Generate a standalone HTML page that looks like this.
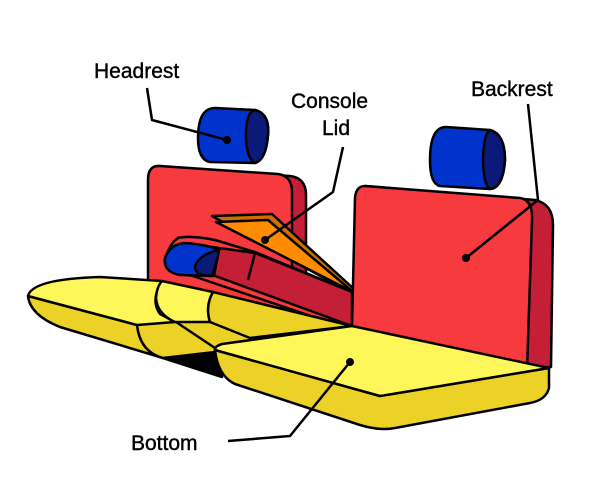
<!DOCTYPE html>
<html><head><meta charset="utf-8"><style>
body{margin:0;background:#fff}
svg{display:block}
text{font-family:"Liberation Sans",sans-serif;font-size:21px;fill:#000;stroke:#000;stroke-width:0.4px}
</style></head><body>
<svg width="610" height="500" viewBox="0 0 610 500" stroke="#000" stroke-width="2.5" stroke-linejoin="round">
<!-- left backrest -->
<path d="M160,168 L290,176 Q306,178 306,195 L306,300 L150,300 L150,182 Q150,166 160,168 Z" fill="#c41f37"/>
<path d="M160,166 L278,174 Q292,176 292,192 L292,300 L148,300 L148,180 Q148,165 160,166 Z" fill="#f63a3e"/>
<!-- left headrest -->
<path d="M215,108 L255,110 Q270,114 268,135 Q266,160 255,163 L210,162 Q198,160 198,138 Q198,108 215,108 Z" fill="#0033cc"/>
<path d="M255,110 Q270,114 268,135 Q266,160 255,163 Q246,158 246,135 Q246,112 255,110 Z" fill="#0a1a78"/>
<!-- middle red fill -->
<path d="M200,240 L352,290 L352,330 L190,290 Z" fill="#f63a3e" stroke="none"/>
<!-- orange lid -->
<path d="M212,216 L272,214 L355,290 L353,294 Z" fill="#d06f00"/>
<path d="M216,222 L268,220 L353,292 Z" fill="#ff8c00"/>
<!-- armrest -->
<path d="M178,238 Q190,235 215,240 L255,252 L352,292 L352,330 L193,276 Q170,272 165,262 Q168,245 178,238 Z" fill="#f63a3e"/>
<path d="M212,247 L255,253 L352,292 L352,326 L207,273 Z" fill="#c41f37"/>
<line x1="255" y1="253" x2="248" y2="280"/>
<!-- cup -->
<path d="M185,243 Q210,245 219,250 L214,276 L180,275 Q163,272 165,258 Q170,244 185,243 Z" fill="#0033cc"/>
<path d="M219,250 Q200,254 195,266 Q194,276 212,276 Q217,262 219,250 Z" fill="#0a1a78"/>
<!-- left cushion -->
<path d="M163,358 L215,350 L222,377 Z" fill="#000"/>
<path d="M140,320 L352,326 L215,350 L163,358 Z" fill="#ecd126" stroke="none"/>
<path d="M28,296 L137,325 L163,358 L60,327 Q30,315 28,296 Z" fill="#ecd126"/>
<path d="M137,325 L173,320 L215,348 L215,352 L163,358 Q140,352 137,325 Z" fill="#ecd126"/>
<path d="M28,296 Q32,279 100,277 L162,281 Q150,300 160,314 L175,322 L137,325 Z" fill="#fff75a"/>
<path d="M162,281 L213,292 Q205,306 210,322 L175,322 Q157,314 156,298 Q157,286 162,281 Z" fill="#fff75a"/>
<path d="M213,292 L352,326 L250,338 L210,322 Q205,306 213,292 Z" fill="#ecd126"/>
<!-- right backrest -->
<path d="M365,186 L535,200 Q553,204 553,225 L551,367 L525,368 Z" fill="#c41f37"/>
<path d="M365,186 L520,198 Q533,200 532,220 L527,370 L352,327 L355,198 Q356,186 365,186 Z" fill="#f63a3e"/>
<!-- right headrest -->
<path d="M446,127 L490,130 Q505,134 505,160 Q503,188 490,189 L440,186 Q430,184 430,160 Q430,127 446,127 Z" fill="#0033cc"/>
<path d="M490,130 Q505,134 505,160 Q503,188 490,189 Q483,184 483,158 Q484,133 490,130 Z" fill="#0a1a78"/>
<!-- right cushion -->
<path d="M215,350 L380,396 L549,368 L549,388 Q546,400 530,403 L395,428 Q380,431 360,425 L235,384 Q218,376 215,350 Z" fill="#ecd126"/>
<path d="M222,344 L352,326 L549,368 L380,396 L215,350 Q215,346 222,344 Z" fill="#fff75a"/>
<!-- leaders -->
<g fill="none" stroke-width="2.5">
<polyline points="147,88 152,120 227,140"/>
<polyline points="343,147 333,192 265,240"/>
<polyline points="528,104 538,200 466,258"/>
<polyline points="228,441 290,436 350,362"/>
</g>
<g fill="#000" stroke="none">
<circle cx="227" cy="140" r="4"/><circle cx="265" cy="240" r="4"/>
<circle cx="466" cy="258" r="4"/><circle cx="350" cy="362" r="4"/>
</g>
<g>
<text x="94" y="78">Headrest</text>
<text x="291" y="108">Console</text>
<text x="322" y="135">Lid</text>
<text x="471" y="96">Backrest</text>
<text x="131" y="450">Bottom</text>
</g>
</svg>
</body></html>
